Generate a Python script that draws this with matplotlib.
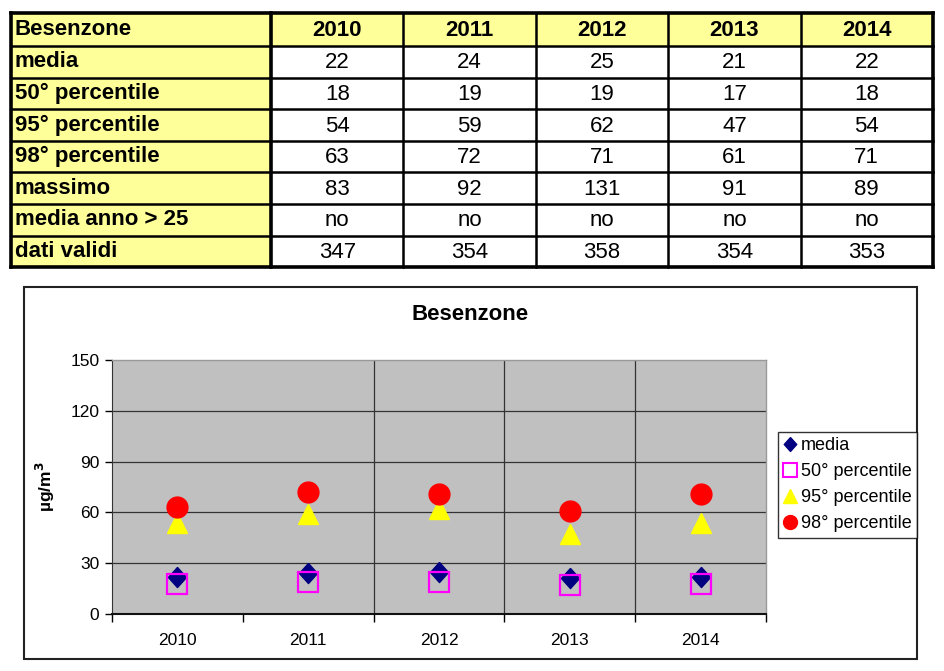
import matplotlib.pyplot as plt
from matplotlib.lines import Line2D
from matplotlib.patches import Rectangle

plt.rcParams['font.family'] = ['Liberation Sans', 'DejaVu Sans']

# data
station = 'Besenzone'
years = ['2010', '2011', '2012', '2013', '2014']
row_labels = ['media', '50° percentile', '95° percentile', '98° percentile',
              'massimo', 'media anno > 25', 'dati validi']
media = [22, 24, 25, 21, 22]
p50 = [18, 19, 19, 17, 18]
p95 = [54, 59, 62, 47, 54]
p98 = [63, 72, 71, 61, 71]
massimo = [83, 92, 131, 91, 89]
media_25 = ['no', 'no', 'no', 'no', 'no']
dati_validi = [347, 354, 358, 354, 353]
table_rows = [media, p50, p95, p98, massimo, media_25, dati_validi]

W, H = 945, 671
fig = plt.figure(figsize=(W / 100, H / 100), dpi=100)

# background axes in pixel coords for table and chart frame
bg = fig.add_axes([0, 0, 1, 1])
bg.set_xlim(0, W)
bg.set_ylim(H, 0)
bg.axis('off')

yellow = '#FFFF99'
x0, x1 = 11, 933
lab_w = 260
col_w = (x1 - x0 - lab_w) / len(years)
y_top = 13
row_h = [33] + [31.6] * len(row_labels)
y_edges = [y_top]
for h in row_h:
    y_edges.append(y_edges[-1] + h)
col_edges = [x0, x0 + lab_w] + [x0 + lab_w + col_w * (i + 1) for i in range(len(years))]

# header row (all yellow) and label column
bg.add_patch(Rectangle((x0, y_edges[0]), x1 - x0, row_h[0], facecolor=yellow, edgecolor='none'))
bg.add_patch(Rectangle((x0, y_edges[1]), lab_w, y_edges[-1] - y_edges[1], facecolor=yellow, edgecolor='none'))

fs_tab = 16
bg.text(x0 + 4, (y_edges[0] + y_edges[1]) / 2, station, fontsize=fs_tab, fontweight='bold', va='center', ha='left')
for j, yr in enumerate(years):
    cx = (col_edges[j + 1] + col_edges[j + 2]) / 2
    bg.text(cx, (y_edges[0] + y_edges[1]) / 2 + 1, yr, fontsize=fs_tab, fontweight='bold', va='center', ha='center')
for i, lab in enumerate(row_labels):
    cy = (y_edges[i + 1] + y_edges[i + 2]) / 2
    bg.text(x0 + 4, cy, lab, fontsize=fs_tab, fontweight='bold', va='center', ha='left')
    for j, v in enumerate(table_rows[i]):
        cx = (col_edges[j + 1] + col_edges[j + 2]) / 2
        bg.text(cx, cy + 1, str(v), fontsize=fs_tab, va='center', ha='center')

# grid lines of table
for y in y_edges:
    lw = 2.6 if y in (y_edges[0], y_edges[-1]) else 1.8
    bg.plot([x0, x1], [y, y], color='black', lw=lw, solid_capstyle='projecting')
for k, x in enumerate(col_edges):
    lw = 2.6 if k in (0, 1, len(col_edges) - 1) else 1.8
    bg.plot([x, x], [y_edges[0], y_edges[-1]], color='black', lw=lw, solid_capstyle='projecting')

# chart frame
bg.add_patch(Rectangle((24, 287), 917 - 24, 659 - 287, facecolor='white', edgecolor='#222222', lw=1.5))
bg.text(470, 314, station, fontsize=16, fontweight='bold', ha='center', va='center')

# plot area
ax = fig.add_axes([112 / W, (H - 614) / H, (766 - 112) / W, (614 - 360) / H])
ax.set_facecolor('#C0C0C0')
xs = list(range(len(years)))
ax.set_xlim(-0.5, len(years) - 0.5)
ax.set_ylim(0, 150)
ax.set_yticks([0, 30, 60, 90, 120, 150])
ax.set_xticks([i - 0.5 for i in range(len(years) + 1)])
ax.set_xticklabels([])
ax.set_xticks(xs, minor=True)
ax.set_xticklabels(years, minor=True)
ax.tick_params(axis='x', which='minor', length=0, pad=14, labelsize=12.5)
ax.tick_params(axis='x', which='major', length=6, width=1, direction='out')
ax.tick_params(axis='y', length=5, width=1, direction='out', labelsize=12.5, pad=4)
for y in [30, 60, 90, 120]:
    ax.axhline(y, color='#333333', lw=0.9, zorder=1)
for x in [1.5, 2.5, 3.5]:
    ax.axvline(x, color='#333333', lw=0.9, zorder=1)
for s in ['top', 'right']:
    ax.spines[s].set_color('#999999')
    ax.spines[s].set_linewidth(1)
ax.spines['left'].set_color('#333333')
ax.spines['bottom'].set_color('#111111')
ax.spines['bottom'].set_linewidth(1.5)

diamond = [(0, 1), (0.9, 0), (0, -1), (-0.9, 0), (0, 1)]
ax.plot(xs, media, linestyle='none', marker=diamond, markersize=14.5, color='#000080', zorder=3, label='media')
ax.plot(xs, p50, linestyle='none', marker='s', markersize=14.5, markerfacecolor='none',
        markeredgecolor='#FF00FF', markeredgewidth=1.6, zorder=4, label='50° percentile')
ax.plot(xs, p95, linestyle='none', marker='^', markersize=15, color='#FFFF00', zorder=3, label='95° percentile')
ax.plot(xs, p98, linestyle='none', marker='o', markersize=15, color='#FF0000', zorder=3, label='98° percentile')

ax.set_ylabel('µg/m$^\\mathbf{3}$', fontsize=12.5, fontweight='bold')
ax.yaxis.set_label_coords(-0.084, 0.5)

handles = [
    Line2D([], [], linestyle='none', marker=diamond, markersize=10, color='#000080'),
    Line2D([], [], linestyle='none', marker='s', markersize=10, markerfacecolor='none',
           markeredgecolor='#FF00FF', markeredgewidth=1.5),
    Line2D([], [], linestyle='none', marker='^', markersize=10, color='#FFFF00'),
    Line2D([], [], linestyle='none', marker='o', markersize=10, color='#FF0000'),
]
leg = fig.legend(handles, ['media', '50° percentile', '95° percentile', '98° percentile'],
                 loc='upper left', bbox_to_anchor=(778 / W, 1 - 432 / H), fontsize=13,
                 frameon=True, fancybox=False, borderpad=0.3, handlelength=0.75,
                 handletextpad=0.2, labelspacing=0.5, borderaxespad=0)
leg.get_frame().set_edgecolor('black')
leg.get_frame().set_linewidth(1)

fig.savefig('out.png', dpi=100)
